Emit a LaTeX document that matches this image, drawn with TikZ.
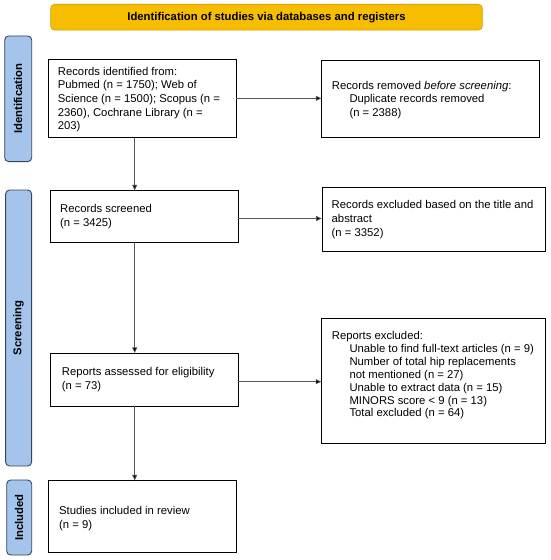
\documentclass[tikz,border=0pt]{standalone}
\usepackage{fontspec}
\setmainfont{Liberation Sans}
\usetikzlibrary{arrows.meta}
\definecolor{hdrfill}{HTML}{F7BD00}
\definecolor{hdrline}{HTML}{E0A200}
\definecolor{lblfill}{HTML}{A4C4EC}
\definecolor{lblline}{HTML}{34465C}
\definecolor{conn}{HTML}{555555}
\tikzset{
  x=1pt, y=-1pt,
  box/.style={draw=black, line width=0.8pt, rectangle, inner sep=0pt, fill=white},
  hdr/.style={draw=hdrline, fill=hdrfill, line width=0.8pt, rounded corners=4pt, inner sep=0pt},
  lbl/.style={draw=lblline, fill=lblfill, line width=0.9pt, rounded corners=4pt, inner sep=0pt},
  lbltext/.style={rotate=90, font=\fontsize{11.3}{13.5}\selectfont\bfseries, inner sep=0pt},
  txt/.style={anchor=west, align=left, inner sep=0pt, font=\fontsize{11.3}{13.6}\selectfont},
  arr/.style={draw=conn, line width=0.7pt, -{Triangle[length=5.5pt,width=5pt,fill=black]}},
}
\newcommand{\ind}{\hspace*{17.6pt}}
\begin{document}
\begin{tikzpicture}
\useasboundingbox (0,0) rectangle (550,560);
% header
\node[hdr, minimum width=431.6pt, minimum height=25.7pt] (hdr) at (266.5,17.2)
  {\fontsize{11.3}{13.5}\selectfont\bfseries Identification of studies via databases and registers};
% side labels
\node[lbl, minimum width=27pt, minimum height=125.7pt] (L1) at (18.2,98.8) {};
\node[lbltext] (L1t) at (L1.center) {Identification};
\node[lbl, minimum width=26pt, minimum height=276pt] (L2) at (18.6,328) {};
\node[lbltext] (L2t) at (L2.center) {Screening};
\node[lbl, minimum width=25pt, minimum height=75pt] (L3) at (19.2,517.5) {};
\node[lbltext] (L3t) at (L3.center) {Included};
% boxes
\node[box, minimum width=187.7pt, minimum height=78pt] (B1) at (142.2,98.3) {};
\node[box, minimum width=217.6pt, minimum height=76.6pt] (B2) at (430.5,99) {};
\node[box, minimum width=187.3pt, minimum height=51.6pt] (B3) at (144.3,216.5) {};
\node[box, minimum width=223pt, minimum height=64.5pt] (B4) at (433.5,219.2) {};
\node[box, minimum width=187.3pt, minimum height=52.7pt] (B5) at (144.3,379.7) {};
\node[box, minimum width=223.3pt, minimum height=125pt] (B6) at (433.3,380.8) {};
\node[box, minimum width=187.7pt, minimum height=72pt] (B7) at (142.2,516.7) {};
% texts
\node[txt] (T1) at (57.7,99.5) {Records identified from:\\Pubmed (n = 1750); Web of\\Science (n = 1500); Scopus (n =\\2360), Cochrane Library (n =\\203)};
\node[txt] (T2) at (331.7,100) {Records removed \textit{before screening}:\\\ind Duplicate records removed\\\ind (n = 2388)};
\node[txt] (T3) at (60,216.7) {Records screened\\(n = 3425)};
\node[txt] (T4) at (331.5,219.5) {Records excluded based on the title and\\abstract\\(n = 3352)};
\node[txt] (T5) at (61.7,379.7) {Reports assessed for eligibility\\(n = 73)};
\node[txt, font=\fontsize{11.3}{12.9}\selectfont] (T6) at (331.7,375.3) {Reports excluded:\\\ind Unable to find full-text articles (n = 9)\\\ind Number of total hip replacements\\\ind not mentioned (n = 27)\\\ind Unable to extract data (n = 15)\\\ind MINORS score {<} 9 (n = 13)\\\ind Total excluded (n = 64)};
\node[txt] (T7) at (59,518.3) {Studies included in review\\(n = 9)};
% connectors
\coordinate (ax) at (134.7,0);
\draw[arr] (B1.south -| ax) -- (B3.north -| ax);
\draw[arr] (B3.south -| ax) -- (B5.north -| ax);
\draw[arr] (B5.south -| ax) -- (B7.north -| ax);
\draw[arr] (B1.east) -- (B1.east -| B2.west);
\draw[arr] ([yshift=-2pt]B3.east) -- ([yshift=-2pt]B3.east -| B4.west);
\draw[arr] ([yshift=-2pt]B5.east) -- ([yshift=-2pt]B5.east -| B6.west);
\end{tikzpicture}
\end{document}
